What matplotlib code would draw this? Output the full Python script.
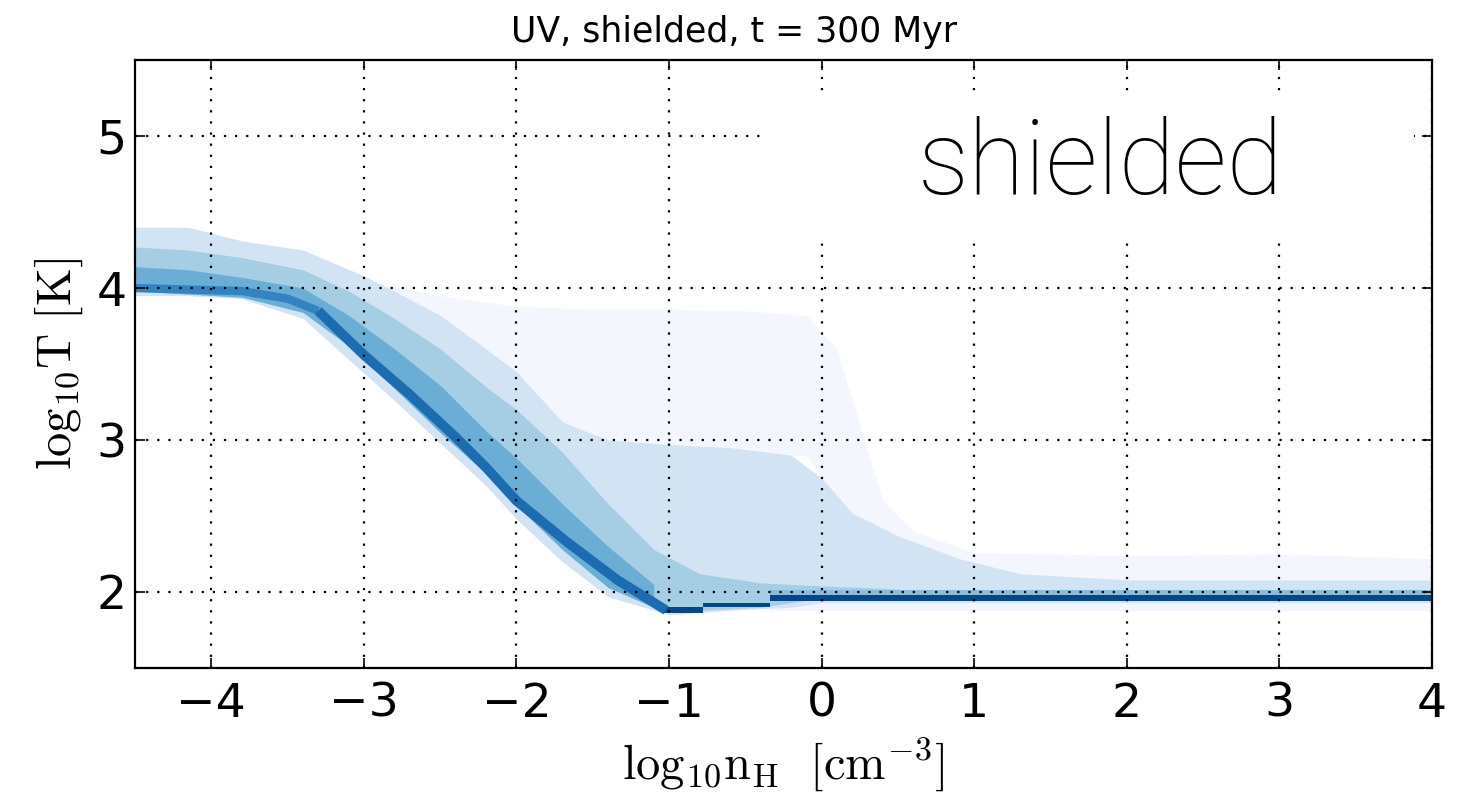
import matplotlib
matplotlib.use('Agg')
import matplotlib.pyplot as plt
from matplotlib.patches import Rectangle

plt.rcParams['mathtext.fontset'] = 'cm'
plt.rcParams['font.family'] = ['DejaVu Sans']

# densest cells: hot branch and cooling track (log n_H, log T)
ridge_x = [-4.5, -3.8, -3.5, -3.3, -3.0, -2.7, -2.4, -2.2, -2.0, -1.67, -1.34, -1.1, -1.02]
ridge_T = [4.0, 3.98, 3.93, 3.85, 3.56, 3.3, 3.02, 2.82, 2.6, 2.33, 2.08, 1.93, 1.88]

# cold floor: bin edges in log n_H and lower / upper log T of the dark row
flat_edges = [-1.05, -0.78, -0.34, 4.0]
flat_lo = [1.86, 1.90, 1.94]
flat_hi = [1.90, 1.93, 1.98]

# envelopes of the shaded regions (lightest first)
faint_x = [-3.0, -2.5, -2.0, -1.5, -1.0, -0.5, -0.1, 0.1, 0.25, 0.4, 0.6, 1.0, 2.0, 3.0, 4.0]
faint_lo = [3.6, 3.3, 3.0, 2.9, 2.9, 2.9, 2.9, 2.6, 2.3, 2.0, 1.98, 1.98, 1.98, 1.98, 1.98]
faint_hi = [4.05, 3.95, 3.88, 3.86, 3.86, 3.85, 3.82, 3.6, 3.1, 2.6, 2.4, 2.26, 2.24, 2.25, 2.22]

light_x = [-4.5, -4.15, -3.8, -3.4, -3.0, -2.8, -2.5, -2.2, -2.0, -1.7, -1.4, -1.0,
           -0.6, -0.2, 0.0, 0.2, 0.5, 0.9, 1.3, 2.0, 3.0, 4.0]
light_lo = [3.95, 3.95, 3.93, 3.8, 3.44, 3.26, 2.98, 2.7, 2.48, 2.2, 1.97, 1.85,
            1.88, 1.9, 1.93, 1.93, 1.93, 1.93, 1.93, 1.93, 1.93, 1.93]
light_hi = [4.40, 4.40, 4.31, 4.25, 4.08, 3.98, 3.82, 3.6, 3.45, 3.12, 3.0, 2.97,
            2.95, 2.9, 2.75, 2.52, 2.37, 2.22, 2.12, 2.08, 2.08, 2.08]

medl_x = [-4.5, -4.15, -3.8, -3.4, -3.1, -2.8, -2.5, -2.2, -2.0, -1.7, -1.4, -1.1, -0.8, -0.4, 0.0, 0.5]
medl_lo = [3.98, 3.96, 3.94, 3.84, 3.62, 3.34, 3.05, 2.78, 2.57, 2.28, 2.03, 1.9, 1.88, 1.9, 1.96, 1.96]
medl_hi = [4.27, 4.25, 4.2, 4.12, 3.98, 3.8, 3.6, 3.35, 3.2, 2.92, 2.58, 2.28, 2.12, 2.06, 2.04, 2.02]

med_x = [-4.5, -4.15, -3.8, -3.4, -3.1, -2.8, -2.5, -2.2, -2.0, -1.7, -1.4, -1.1]
med_lo = [3.98, 3.96, 3.94, 3.84, 3.62, 3.34, 3.05, 2.78, 2.57, 2.28, 2.03, 1.9]
med_hi = [4.14, 4.12, 4.07, 4.0, 3.82, 3.6, 3.36, 3.06, 2.88, 2.58, 2.3, 2.05]

# thin rows just above / below the cold floor
row_x = [-0.34, 4.0]
row_lo = [1.975, 1.975]
row_hi = [2.015, 2.015]
below_lo = [1.875, 1.875]
below_hi = [1.94, 1.94]

fig = plt.figure(figsize=(14.69, 8.09), dpi=100)
ax = fig.add_axes([0.0919, 0.1743, 0.8829, 0.7515])

ax.fill_between(faint_x, faint_lo, faint_hi, color='#f3f7fd', lw=0)
ax.fill_between(row_x, below_lo, below_hi, color='#f1f6fc', lw=0)
ax.fill_between(light_x, light_lo, light_hi, color='#d2e3f3', lw=0)
ax.fill_between(medl_x, medl_lo, medl_hi, color='#a5cde3', lw=0)
ax.fill_between(med_x, med_lo, med_hi, color='#6aaed6', lw=0)
ax.fill_between(row_x, row_lo, row_hi, color='#88bedc', lw=0)
ax.plot(ridge_x[:4], ridge_T[:4], color='#3283c0', lw=6, solid_capstyle='butt')
ax.plot(ridge_x[3:], ridge_T[3:], color='#1d6cb1', lw=7, solid_capstyle='butt',
        solid_joinstyle='round')
ax.stairs(flat_hi, flat_edges, baseline=flat_lo, fill=True, color='#08468b')

ax.set_xlim(-4.5, 4)
ax.set_ylim(1.5, 5.5)
ax.set_xticks(range(-4, 5))
ax.set_yticks([2, 3, 4, 5])
ax.set_axisbelow(False)
ax.grid(True, color='k', linestyle=(0, (1, 4)), linewidth=1.6)
ax.tick_params(direction='in', top=True, right=True, length=7, width=1.2, labelsize=34)
ax.tick_params(axis='x', pad=10)
ax.tick_params(axis='y', pad=6)
for sp in ax.spines.values():
    sp.set_linewidth(1.6)

# white patch behind the panel tag
ax.add_patch(Rectangle((-0.37, 4.33), 4.25, 0.95, facecolor='white', edgecolor='none', zorder=3))
ax.text(0.63, 4.62, 'shielded', fontsize=74, family=['Roboto', 'DejaVu Sans'],
        fontweight='light', zorder=4)

fig.text(0.5, 1 - 42 / 809, 'UV, shielded, t = 300 Myr', fontsize=25,
         ha='center', va='baseline')
ax.set_xlabel(r'$\mathrm{log_{10}n_H}\ \ [\mathrm{cm^{-3}}]$', fontsize=35, labelpad=6)
ax.set_ylabel(r'$\mathrm{log_{10}T}\ [\mathrm{K}]$', fontsize=35, labelpad=8)

fig.savefig('out.png', dpi=100)
